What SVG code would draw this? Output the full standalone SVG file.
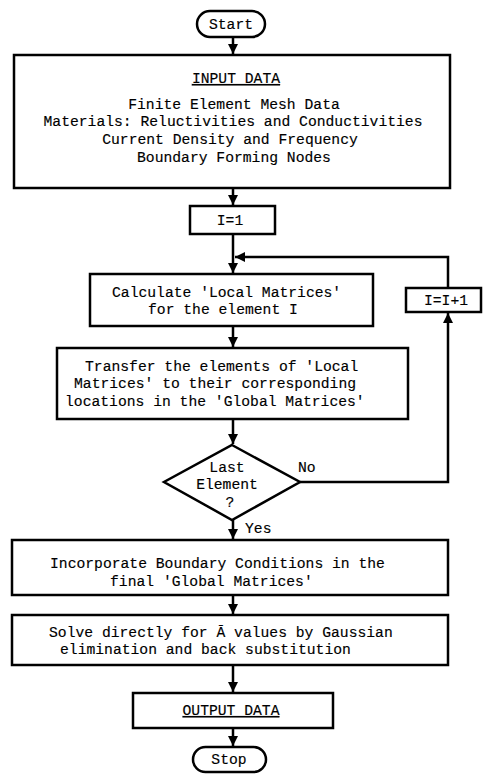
<svg xmlns="http://www.w3.org/2000/svg" width="483" height="777" viewBox="0 0 483 777">
<defs>
<marker id="ah" viewBox="0 0 10 10" refX="10" refY="5" markerWidth="10" markerHeight="10" markerUnits="userSpaceOnUse" orient="auto">
<path d="M0,0 L10,5 L0,10 Z" fill="#000"/>
</marker>
</defs>
<style>
.b{fill:#fff;stroke:#000;stroke-width:2.5}
.c{fill:none;stroke:#000;stroke-width:2.5}
text{font-family:"Liberation Mono","Courier New",monospace;font-size:14.7px;fill:#000;stroke:#000;stroke-width:0.15}
.m{text-anchor:middle}
.u{text-decoration:underline}
</style>
<rect width="483" height="777" fill="#fff"/>
<g id="connectors">
<path class="c" d="M233,37 V54" marker-end="url(#ah)"/>
<path class="c" d="M233,188 V205" marker-end="url(#ah)"/>
<path class="c" d="M233,234 V273" marker-end="url(#ah)"/>
<path class="c" d="M448,288 V257 H235" marker-end="url(#ah)"/>
<path class="c" d="M233,326 V347" marker-end="url(#ah)"/>
<path class="c" d="M233,419 V444" marker-end="url(#ah)"/>
<path class="c" d="M300,482 H448 V313" marker-end="url(#ah)"/>
<path class="c" d="M233,520 V539" marker-end="url(#ah)"/>
<path class="c" d="M233,595 V614" marker-end="url(#ah)"/>
<path class="c" d="M233,665 V692" marker-end="url(#ah)"/>
<path class="c" d="M233,728 V746" marker-end="url(#ah)"/>
<text x="298" y="472">No</text>
<text x="245" y="533">Yes</text>
</g>
<g id="start">
<rect class="b" x="197" y="11" width="68" height="26" rx="13"/>
<text class="m" x="231" y="29">Start</text>
</g>
<g id="input">
<rect class="b" x="14" y="55" width="436" height="133"/>
<text class="m u" x="236" y="83">INPUT DATA</text>
<text class="m" x="234" y="109">Finite Element Mesh Data</text>
<text class="m" x="233" y="126">Materials:  Reluctivities and Conductivities</text>
<text class="m" x="230" y="144">Current Density and Frequency</text>
<text class="m" x="234" y="162">Boundary Forming Nodes</text>
</g>
<g id="i1">
<rect class="b" x="190" y="206" width="85" height="28"/>
<text class="m" x="230" y="225">I=1</text>
</g>
<g id="calc">
<rect class="b" x="90" y="274" width="283" height="52"/>
<text x="112" y="297">Calculate 'Local Matrices'</text>
<text x="148" y="314">for the element I</text>
</g>
<g id="transfer">
<rect class="b" x="57" y="348" width="351" height="71"/>
<text x="85" y="371">Transfer the elements of 'Local</text>
<text x="74" y="388">Matrices' to their corresponding</text>
<text x="65" y="406">locations in the 'Global Matrices'</text>
</g>
<g id="decision">
<polygon class="b" points="232,445 300,482 232,520 164,482"/>
<text class="m" x="227" y="472">Last</text>
<text class="m" x="227" y="489">Element</text>
<text class="m" x="230" y="507">?</text>
</g>
<g id="inc">
<rect class="b" x="406" y="288" width="75" height="24"/>
<text class="m" x="446" y="305">I=I+1</text>
</g>
<g id="boundary">
<rect class="b" x="12" y="540" width="436" height="55"/>
<text x="50" y="568">Incorporate Boundary Conditions in the</text>
<text x="110" y="586">final 'Global Matrices'</text>
</g>
<g id="solve">
<rect class="b" x="12" y="615" width="436" height="50"/>
<text x="49" y="637">Solve directly for Ā values by Gaussian</text>
<text x="60" y="654">elimination and back substitution</text>
</g>
<g id="output">
<rect class="b" x="133" y="693" width="200" height="35"/>
<text class="m u" x="231" y="715">OUTPUT DATA</text>
</g>
<g id="stop">
<rect class="b" x="193" y="747" width="73" height="25" rx="12.5"/>
<text class="m" x="229" y="764">Stop</text>
</g>
</svg>
